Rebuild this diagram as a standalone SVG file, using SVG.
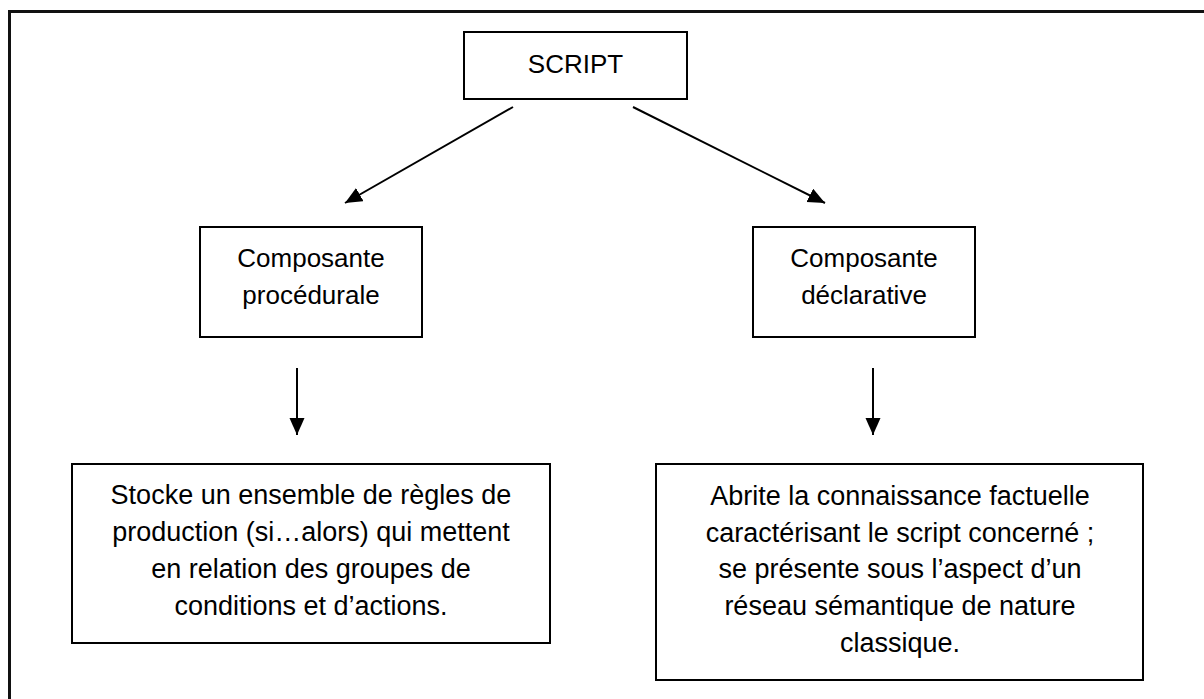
<svg xmlns="http://www.w3.org/2000/svg" width="1204" height="699" viewBox="0 0 1204 699">
<defs>
<style>
.box{fill:#fff;stroke:#000;stroke-width:2}
.frame{fill:none;stroke:#111;stroke-width:3}
.t{font-family:"Liberation Sans","DejaVu Sans",sans-serif;font-size:26px;fill:#000;text-anchor:middle}
.b{font-size:27px}
.c{stroke:#000;stroke-width:2;fill:none}
</style>
<marker id="ah" markerWidth="18" markerHeight="16" refX="17" refY="7.5" orient="auto" markerUnits="userSpaceOnUse">
<path d="M0,0 L17,7.5 L0,15 Z" fill="#000"/>
</marker>
</defs>
<rect width="1204" height="699" fill="#fff"/>
<rect class="frame" x="9.5" y="11.5" width="1300" height="800"/>
<g id="script">
<rect class="box" x="464" y="32" width="223" height="67"/>
<text class="t" x="575.5" y="73">SCRIPT</text>
</g>
<g id="procedurale">
<rect class="box" x="200" y="227" width="222" height="110"/>
<text class="t" x="311" y="267">Composante</text>
<text class="t" x="311" y="304">procédurale</text>
</g>
<g id="declarative">
<rect class="box" x="753" y="227" width="222" height="110"/>
<text class="t" x="864" y="267">Composante</text>
<text class="t" x="864" y="304">déclarative</text>
</g>
<g id="regles">
<rect class="box" x="72" y="464" width="478" height="179"/>
<text class="t b" x="311" y="504">Stocke un ensemble de règles de</text>
<text class="t b" x="311" y="541">production (si…alors) qui mettent</text>
<text class="t b" x="311" y="578">en relation des groupes de</text>
<text class="t b" x="311" y="615">conditions et d’actions.</text>
</g>
<g id="connaissance">
<rect class="box" x="656" y="464" width="487" height="216"/>
<text class="t b" x="900" y="505">Abrite la connaissance factuelle</text>
<text class="t b" x="900" y="542">caractérisant le script concerné ;</text>
<text class="t b" x="900" y="578">se présente sous l’aspect d’un</text>
<text class="t b" x="900" y="615">réseau sémantique de nature</text>
<text class="t b" x="900" y="652">classique.</text>
</g>
<g id="connectors">
<line class="c" x1="513" y1="107" x2="345" y2="203" marker-end="url(#ah)"/>
<line class="c" x1="633" y1="107" x2="825" y2="203" marker-end="url(#ah)"/>
<line class="c" x1="297" y1="368" x2="297" y2="435" marker-end="url(#ah)"/>
<line class="c" x1="873" y1="368" x2="873" y2="435" marker-end="url(#ah)"/>
</g>
</svg>
